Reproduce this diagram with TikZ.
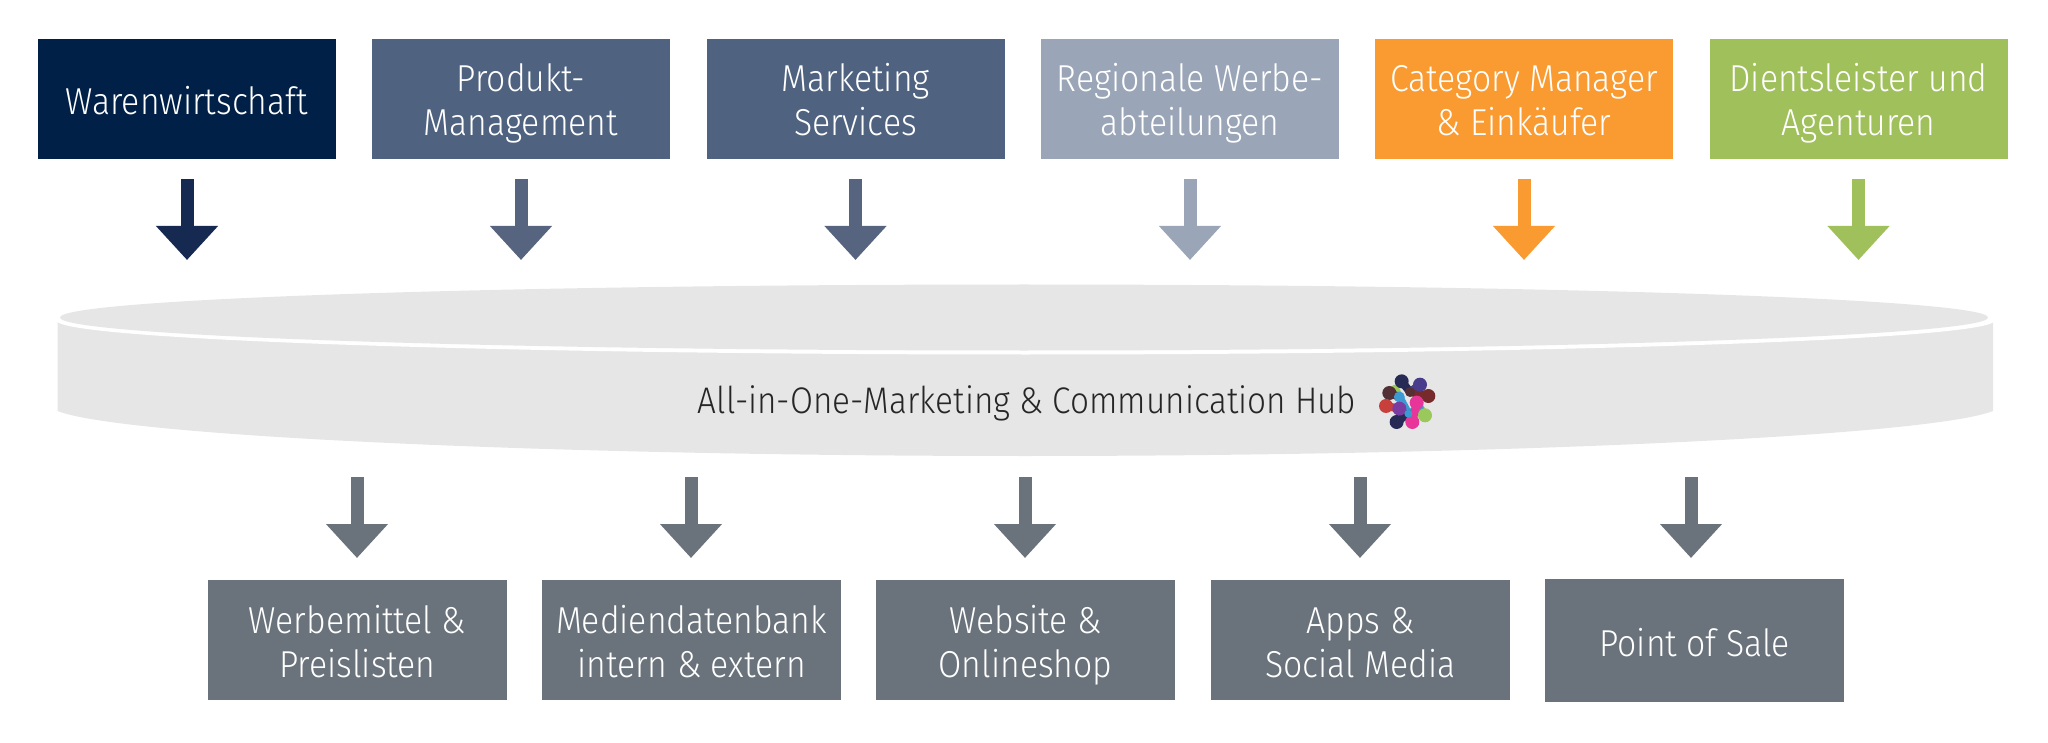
\documentclass[tikz,border=0pt]{standalone}
\usepackage{fontspec}
\setmainfont{Fira Sans Light}[FakeStretch=0.9]
\usetikzlibrary{arrows.meta}
\definecolor{cNavy}{HTML}{012047}\definecolor{aNavy}{HTML}{162950}
\definecolor{cBlue}{HTML}{4F6280}\definecolor{aBlue}{HTML}{56647F}
\definecolor{cPale}{HTML}{9AA6B8}
\definecolor{cOrange}{HTML}{F99B31}
\definecolor{cGreen}{HTML}{A0C05C}
\definecolor{cGrey}{HTML}{6A737B}
\definecolor{cDisk}{HTML}{E6E6E6}
\definecolor{lNavy}{HTML}{272A55}\definecolor{lPurple}{HTML}{4A3C8C}
\definecolor{lBrown}{HTML}{533036}\definecolor{lMaroon}{HTML}{762A2C}
\definecolor{lBlue}{HTML}{3C9AD2}\definecolor{lRed}{HTML}{C8403C}
\definecolor{lViolet}{HTML}{7A3CA0}\definecolor{lPink}{HTML}{E8359A}
\definecolor{lGreen}{HTML}{9AC85A}
\newcommand\txlow[2]{\raisebox{0pt}[\dimexpr\height+#1\relax][\dimexpr\depth-#1\relax]{\begin{tabular}{@{}c@{}}#2\end{tabular}}}
\tikzset{
  x=1pt,y=-1pt,
  boxa/.style={fill=#1,text=white,minimum width=298pt,minimum height=120pt,inner sep=0pt,align=center,anchor=center,
    font=\fontsize{37.5}{43.5}\selectfont},
  boxb/.style={boxa=cGrey,minimum width=299pt},
  flow/.style={draw=#1,line width=13pt,-{Triangle[length=34pt,width=60pt]},shorten <=20pt},
  flowb/.style={draw=cGrey,line width=13pt,-{Triangle[length=34pt,width=60pt]}},
  dot/.style={circle,fill=#1,minimum size=14pt,inner sep=0pt},
  link/.style={draw=#1,line width=8pt,line cap=round},
}
\begin{document}
\begin{tikzpicture}
\useasboundingbox (0,0) rectangle (2048,743);
% top boxes
\node[boxa=cNavy]  (t1) at (187,99)  {\txlow{7pt}{Warenwirtschaft}};
\node[boxa=cBlue]  (t2) at (521,99)  {\txlow{6pt}{Produkt-\\Management}};
\node[boxa=cBlue]  (t3) at (855.5,99){\txlow{6pt}{Marketing\\Services}};
\node[boxa=cPale]  (t4) at (1190,99) {\txlow{6pt}{Regionale Werbe-\\abteilungen}};
\node[boxa=cOrange](t5) at (1524,99) {\txlow{6pt}{Category Manager\\\& Einkäufer}};
\node[boxa=cGreen] (t6) at (1858.5,99){\txlow{6pt}{Dientsleister und\\Agenturen}};
% top arrow ends
\coordinate (e1) at (187,260);\coordinate (e2) at (521,260);\coordinate (e3) at (855.5,260);
\coordinate (e4) at (1190,260);\coordinate (e5) at (1524,260);\coordinate (e6) at (1858.5,260);
\draw[flow=aNavy] (t1.south) -- (e1);
\draw[flow=aBlue] (t2.south) -- (e2);
\draw[flow=aBlue] (t3.south) -- (e3);
\draw[flow=cPale] (t4.south) -- (e4);
\draw[flow=cOrange] (t5.south) -- (e5);
\draw[flow=cGreen] (t6.south) -- (e6);
% disk
\fill[cDisk] (57.5,321) -- (1993,321)
   -- (1993,411) .. controls (1930,436) and (1500,456) .. (1025,456)
   .. controls (550,456) and (120,436) .. (57.5,411) -- cycle;
\fill[white] (1025.5,320.5) ellipse [x radius=969,y radius=34];
\fill[cDisk] (1024,317.5) ellipse [x radius=964,y radius=33];
\node[text=black!85,font=\fontsize{37}{40}\selectfont,inner sep=0pt] (hub) at (1027,403.5) {All-in-One-Marketing \& Communication Hub};
% logo
\begin{scope}[shift={(1340,342)},x=0.3333pt,y=-0.3333pt]
\draw[link=lNavy] (185,118) -- (210,150);
\draw[link=lGreen] (165,140) -- (178,165);
\draw[link=lGreen] (255,220) -- (230,182);
\draw[link=lPurple] (240,128) -- (210,150);
\draw[link=lBrown] (148,153) -- (178,165);
\draw[link=lMaroon] (265,162) -- (210,150);
\draw[link=lRed] (138,192) -- (178,200);
\draw[link=lBlue] (178,165) -- (205,215);
\draw[link=lBlue] (240,200) -- (205,215);
\draw[link=lNavy] (170,240) -- (205,215);
\draw[link=lPink] (217,240) -- (230,182);
\node[dot=lNavy] (d1) at (185,118) {};
\node[dot=lPurple] (d2) at (240,128) {};
\node[dot=lBrown] (d3) at (148,153) {};
\node[dot=lMaroon] (d4) at (265,162) {};
\node[dot=lBlue,minimum size=11pt] (d5) at (178,165) {};
\node[dot=lBrown,minimum size=10pt] (d6) at (210,150) {};
\node[dot=lRed] (d7) at (138,192) {};
\node[dot=lViolet] (d8) at (178,200) {};
\node[dot=lPink] (d9) at (230,182) {};
\node[dot=lGreen] (d10) at (255,220) {};
\node[dot=lNavy] (d11) at (170,240) {};
\node[dot=lPink] (d12) at (217,240) {};
\node[dot=lBlue,minimum size=8pt] (d13) at (205,215) {};
\end{scope}
% bottom boxes
\node[boxb] (b1) at (357.5,640)  {\txlow{7pt}{Werbemittel \&\\Preislisten}};
\node[boxb] (b2) at (691.5,640)  {\txlow{7pt}{Mediendatenbank\\intern \& extern}};
\node[boxb] (b3) at (1025.5,640) {\txlow{7pt}{Website \&\\Onlineshop}};
\node[boxb] (b4) at (1360.5,640) {\txlow{7pt}{Apps \&\\Social Media}};
\node[boxb,minimum height=123pt] (b5) at (1694.5,640.5) {\txlow{7pt}{Point of Sale}};
% bottom arrow starts
\coordinate (s1) at (357,477);\coordinate (s2) at (691,477);\coordinate (s3) at (1025,477);
\coordinate (s4) at (1360,477);\coordinate (s5) at (1691,477);
\coordinate (f1) at (357,558);\coordinate (f2) at (691,558);\coordinate (f3) at (1025,558);
\coordinate (f4) at (1360,558);\coordinate (f5) at (1691,558);
\draw[flowb] (s1) -- (f1);
\draw[flowb] (s2) -- (f2);
\draw[flowb] (s3) -- (f3);
\draw[flowb] (s4) -- (f4);
\draw[flowb] (s5) -- (f5);
\end{tikzpicture}
\end{document}
